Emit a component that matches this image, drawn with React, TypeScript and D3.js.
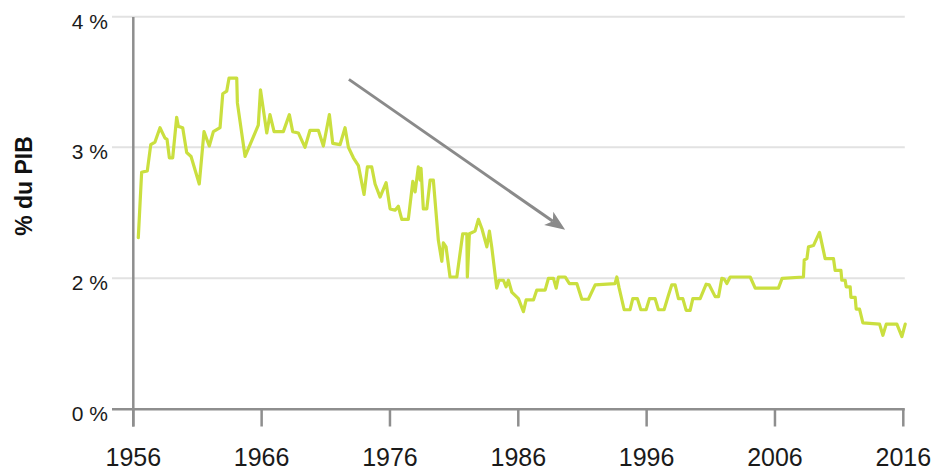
import React from "react";
import * as d3 from "d3";

const years: number[] = [
  1956.39, 1956.65, 1957.09, 1957.36, 1957.69, 1958.08, 1958.47, 1958.63, 1958.81, 1959.07,
  1959.38, 1959.51, 1959.85, 1960.16, 1960.5, 1961.14, 1961.51, 1961.92, 1962.24, 1962.76,
  1962.97, 1963.28, 1963.46, 1964.06, 1964.11, 1964.71, 1965.74, 1965.91, 1966.4, 1966.65,
  1966.97, 1967.69, 1968.16, 1968.42, 1968.86, 1969.38, 1969.77, 1970.42, 1970.81, 1971.28,
  1971.54, 1972.11, 1972.5, 1972.76, 1973.15, 1973.54, 1973.98, 1974.24, 1974.58, 1974.84,
  1975.23, 1975.7, 1976.01, 1976.4, 1976.65, 1976.92, 1977.43, 1977.78, 1977.96, 1978.21,
  1978.35, 1978.42, 1978.6, 1978.87, 1979.13, 1979.38, 1979.77, 1980.04, 1980.16, 1980.37,
  1980.68, 1981.21, 1981.67, 1981.99, 1982.03, 1982.19, 1982.63, 1982.89, 1983.16, 1983.55,
  1983.75, 1983.93,
  1984.32, 1984.5, 1984.84, 1985.05, 1985.23, 1985.49, 1986.01, 1986.4, 1986.61, 1987.18,
  1987.44, 1988.09, 1988.35, 1988.74, 1988.95, 1989.13, 1989.65, 1989.98, 1990.56, 1990.95,
  1991.46, 1991.99, 1993.54, 1993.68, 1993.86, 1994.25, 1994.71, 1994.92, 1995.28, 1995.55,
  1995.96, 1996.22, 1996.66, 1996.92, 1997.36, 1997.7, 1997.96, 1998.22, 1998.48, 1998.82,
  1999.08, 1999.39, 1999.6, 2000.17, 2000.64, 2000.87, 2001.34, 2001.6, 2001.86, 2002.04,
  2002.25, 2002.51, 2004.07, 2004.46, 2006.27, 2006.56, 2008.22, 2008.28, 2008.49, 2008.61,
  2009.0, 2009.47, 2009.91, 2010.56, 2010.69, 2011.14, 2011.21, 2011.47, 2011.55, 2011.86,
  2011.92, 2012.25, 2012.33, 2012.59, 2012.85, 2014.15, 2014.41, 2014.67, 2015.5, 2015.89,
  2016.15,
];

const pibShare: number[] = [
  2.31, 2.81, 2.82, 3.02, 3.04, 3.15, 3.07, 3.06, 2.92, 2.92,
  3.23, 3.16, 3.15, 2.96, 2.93, 2.72, 3.12, 3.01, 3.12, 3.15,
  3.41, 3.43, 3.53, 3.53, 3.34, 2.93, 3.17, 3.44, 3.11, 3.25,
  3.12, 3.12, 3.25, 3.12, 3.11, 3.0, 3.13, 3.13, 3.01, 3.25,
  3.03, 3.02, 3.15, 3.0, 2.92, 2.86, 2.64, 2.85, 2.85, 2.72,
  2.62, 2.73, 2.53, 2.52, 2.55, 2.45, 2.45, 2.74, 2.66, 2.85,
  2.75, 2.84, 2.53, 2.53, 2.75, 2.75, 2.29, 2.13, 2.27, 2.24,
  2.01, 2.01, 2.34, 2.34, 2.01, 2.34, 2.36, 2.45, 2.38, 2.24,
  2.36, 2.24,
  1.85, 1.97, 1.97, 1.87, 1.97, 1.79, 1.69, 1.49, 1.67, 1.67,
  1.82, 1.82, 2.0, 2.0, 1.85, 2.01, 2.01, 1.92, 1.92, 1.68,
  1.68, 1.9, 1.92, 2.01, 1.85, 1.52, 1.52, 1.69, 1.69, 1.52,
  1.52, 1.69, 1.69, 1.52, 1.52, 1.74, 1.9, 1.9, 1.69, 1.69,
  1.51, 1.51, 1.69, 1.69, 1.91, 1.9, 1.72, 1.72, 2.0, 1.99,
  1.92, 2.01, 2.01, 1.85, 1.85, 2.0, 2.01, 2.14, 2.15, 2.24,
  2.25, 2.35, 2.15, 2.15, 2.06, 2.06, 1.97, 1.97, 1.87, 1.87,
  1.71, 1.71, 1.53, 1.53, 1.32, 1.3, 1.13, 1.3, 1.3, 1.11,
  1.3,
];

const xTicks: number[] = [1956, 1966, 1976, 1986, 1996, 2006, 2016];
const yTicks: number[] = [0, 2, 3, 4];
const yGrid: number[] = [2, 3, 4];
// trend arrow annotation, in data coordinates [year, value]
const arrowFrom: [number, number] = [1972.8, 3.52];
const arrowTo: [number, number] = [1989.65, 2.37];

const W = 936;
const H = 471;

export default function App() {
  const x = d3.scaleLinear().domain([1956, 2016]).range([133.3, 903.3]);
  // broken (piecewise) value axis as in the original
  const y = d3.scaleLinear().domain([0, 2, 3, 4]).range([409.3, 278.3, 147.3, 16.7]);

  const data = years.map((yr, i) => [yr, pibShare[i]] as [number, number]);
  const line = d3
    .line<[number, number]>()
    .x((d) => x(d[0]))
    .y((d) => y(d[1]))
    .curve(d3.curveLinear);

  const gridLeft = 112;
  const gridRight = x(2016) + 1.5;
  const axisY = y(0);

  const ax0 = x(arrowFrom[0]);
  const ay0 = y(arrowFrom[1]);
  const ax1 = x(arrowTo[0]);
  const ay1 = y(arrowTo[1]);
  const ang = Math.atan2(ay1 - ay0, ax1 - ax0);
  const headLen = 20;
  const headW = 8;
  const bx = ax1 - headLen * Math.cos(ang);
  const by = ay1 - headLen * Math.sin(ang);
  const nx = -Math.sin(ang);
  const ny = Math.cos(ang);
  const notch = 5;
  const headPath = [
    [ax1, ay1],
    [bx + nx * headW, by + ny * headW],
    [bx + notch * Math.cos(ang), by + notch * Math.sin(ang)],
    [bx - nx * headW, by - ny * headW],
  ];
  const headD = d3.line()(headPath as [number, number][]) + "Z";

  const font = "'Liberation Sans', Arial, Helvetica, sans-serif";

  return (
    <svg
      width={W}
      height={H}
      style={{ position: "absolute", left: 0, top: 0, background: "#fff" }}
      fontFamily={font}
    >
      <rect x={0} y={0} width={W} height={H} fill="#fff" />
      {/* gridlines */}
      {yGrid.map((v) => (
        <line
          key={"g" + v}
          x1={gridLeft}
          x2={gridRight}
          y1={y(v)}
          y2={y(v)}
          stroke="#e2e2e2"
          strokeWidth={2}
        />
      ))}
      {/* y labels */}
      {yTicks.map((v) => (
        <text
          key={"yl" + v}
          x={108}
          y={y(v) + 12}
          textAnchor="end"
          fontSize={21}
          fill="#1a1a1a"
        >
          {v + " %"}
        </text>
      ))}
      {/* y title */}
      <text
        transform={`translate(32, 186) rotate(-90)`}
        textAnchor="middle"
        fontSize={23}
        fontWeight="bold"
        fill="#111"
      >
        % du PIB
      </text>
      {/* data line */}
      <path
        d={line(data) || ""}
        fill="none"
        stroke="#cadf3f"
        strokeWidth={3.2}
        strokeLinejoin="round"
        strokeLinecap="round"
      />
      {/* x axis */}
      <line x1={gridLeft} x2={gridRight} y1={axisY} y2={axisY} stroke="#8e8e8e" strokeWidth={2.5} />
      {/* y axis */}
      <line x1={x(1956)} x2={x(1956)} y1={17} y2={426.5} stroke="#8e8e8e" strokeWidth={2.5} />
      {xTicks.map((t) => (
        <g key={"xt" + t}>
          <line x1={x(t)} x2={x(t)} y1={axisY} y2={426.5} stroke="#8e8e8e" strokeWidth={2.5} />
          <text x={x(t)} y={465.5} textAnchor="middle" fontSize={25} fill="#1a1a1a">
            {t}
          </text>
        </g>
      ))}
      {/* trend arrow */}
      <line
        x1={ax0}
        y1={ay0}
        x2={bx + notch * Math.cos(ang)}
        y2={by + notch * Math.sin(ang)}
        stroke="#8a8a8a"
        strokeWidth={3}
      />
      <path d={headD} fill="#8a8a8a" />
    </svg>
  );
}
